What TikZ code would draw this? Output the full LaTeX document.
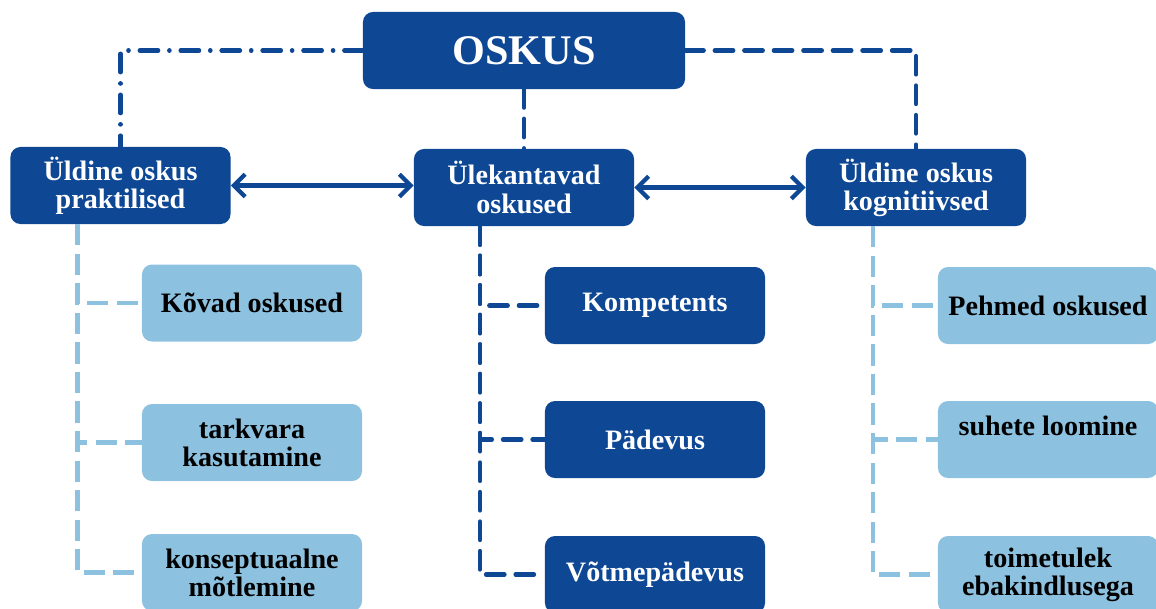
\documentclass[tikz,border=0pt]{standalone}
\usepackage{fontspec}
\setmainfont{Liberation Serif}
\usetikzlibrary{arrows.meta,positioning}
\definecolor{darkbox}{HTML}{0E4794}
\definecolor{lightbox}{HTML}{8DC1E0}

\begin{document}
\begin{tikzpicture}[x=0.025cm,y=-0.025cm,
    darknode/.style={fill=darkbox,text=white,rounded corners=0.25cm,minimum width=5.5cm,minimum height=1.925cm,
      align=center,inner sep=0pt,font=\fontsize{20}{20}\selectfont\bfseries},
    lightnode/.style={darknode,fill=lightbox,text=black},
    darklink/.style={darkbox,line width=3.2pt,line cap=round,dash pattern=on 13pt off 8pt},
    lightlink/.style={lightbox,line width=3.2pt,dash pattern=on 15pt off 6pt},
    twoway/.style={darkbox,line width=3pt,{Straight Barb[length=8pt,width=16pt]}-{Straight Barb[length=8pt,width=16pt]}}]
  \clip (0,0) rectangle (1156,608);
  % Top
  \node[darknode,minimum width=8.05cm,font=\fontsize{30}{30}\selectfont\bfseries] (oskus) at (524,50.5) {OSKUS};
  % Second row
  \node[darknode] (prakt) at (120.5,185.5) {Üldine oskus\\praktilised};
  \node[darknode] (ulek) at (524,187.5) {Ülekantavad\\oskused};
  \node[darknode] (kogn) at (916,187.5) {Üldine oskus\\kognitiivsed};
  % Left column
  \node[lightnode] (kovad) at (252,303) {Kõvad oskused};
  \node[lightnode] (tark) at (252,442.5) {tarkvara\\kasutamine};
  \node[lightnode] (konsep) at (252,572.5) {konseptuaalne\\mõtlemine};
  % Middle column
  \node[darknode] (komp) at (655,305.5) {Kompetents};
  \node[darknode] (padev) at (655,439.5) {Pädevus};
  \node[darknode] (votme) at (655,574.5) {Võtmepädevus};
  % Right column
  \node[lightnode] (pehm) at (1048,305.5) {Pehmed oskused};
  \node[lightnode] (suhe) at (1048,439.5) {suhete loomine\\~};
  \node[lightnode] (toim) at (1048,574.5) {toimetulek\\ebakindlusega};
  % Links from the top
  \draw[darklink,dash pattern=on 13pt off 8pt on 0.1pt off 8pt] (oskus.west) -| (prakt.north);
  \draw[darklink] (oskus.east) -| (kogn.north);
  \draw[darklink] (oskus.south) -- (ulek.north);
  % Arrows
  \draw[twoway] (prakt.east) -- (prakt.east -| ulek.west);
  \draw[twoway] (ulek.east) -- (kogn.west);
  % Branches
  \foreach \kid in {kovad,tark,konsep}
    \draw[lightlink] ([xshift=-1.075cm]prakt.south) |- (\kid.west);
  \foreach \kid in {komp,padev,votme}
    \draw[darklink] ([xshift=-1.1cm]ulek.south) |- (\kid.west);
  \foreach \kid in {pehm,suhe,toim}
    \draw[lightlink] ([xshift=-1.075cm]kogn.south) |- (\kid.west);
\end{tikzpicture}
\end{document}
